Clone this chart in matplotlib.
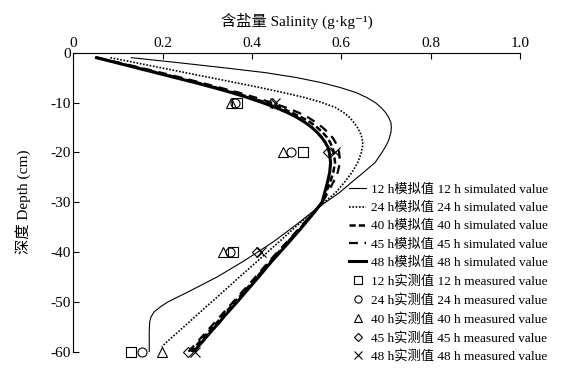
import matplotlib
matplotlib.use("Agg")
import matplotlib.pyplot as plt
import numpy as np

plt.rcParams['font.family'] = ['Liberation Serif', 'Noto Sans CJK SC', 'DejaVu Sans']

# ---- data ----
depth = [-1, -2, -3, -4, -5, -6, -7, -8, -9, -10, -11, -12, -13, -14, -15, -16, -17, -18, -19, -20,
         -22, -24, -26, -28, -30, -32, -35, -38, -40, -42, -45, -48, -50, -51, -52, -53, -54, -56, -58, -59, -60]

sim_12h = [0.130, 0.235, 0.335, 0.430, 0.500, 0.555, 0.598, 0.633, 0.657, 0.676, 0.689, 0.699, 0.706, 0.711, 0.712,
           0.711, 0.708, 0.704, 0.698, 0.691, 0.676, 0.650, 0.623, 0.597, 0.565, 0.535, 0.492, 0.447, 0.413, 0.378,
           0.322, 0.257, 0.212, 0.195, 0.181, 0.174, 0.171, 0.170, 0.170, 0.170, 0.170]
sim_24h = [0.083, 0.139, 0.195, 0.251, 0.307, 0.363, 0.418, 0.470, 0.518, 0.557, 0.587, 0.605, 0.619, 0.628, 0.636,
           0.642, 0.646, 0.648, 0.647, 0.645, 0.637, 0.624, 0.607, 0.588, 0.562, 0.535, 0.497, 0.460, 0.435, 0.410,
           0.372, 0.335, 0.310, 0.297, 0.285, 0.272, 0.260, 0.235, 0.210, 0.198, np.nan]
sim_40h = [0.052, 0.098, 0.144, 0.189, 0.234, 0.278, 0.320, 0.360, 0.397, 0.431, 0.462, 0.489, 0.512, 0.531, 0.546,
           0.558, 0.568, 0.575, 0.580, 0.583, 0.586, 0.582, 0.575, 0.566, 0.557, 0.539, 0.510, 0.480, 0.460, 0.440,
           0.411, 0.382, 0.362, 0.352, 0.342, 0.332, 0.323, 0.303, 0.283, 0.273, 0.263]
sim_45h = [0.055, 0.103, 0.150, 0.196, 0.242, 0.285, 0.328, 0.370, 0.408, 0.443, 0.476, 0.504, 0.526, 0.543, 0.558,
           0.570, 0.580, 0.587, 0.592, 0.595, 0.597, 0.592, 0.582, 0.570, 0.558, 0.538, 0.508, 0.478, 0.457, 0.437,
           0.408, 0.378, 0.358, 0.348, 0.338, 0.328, 0.318, 0.298, 0.278, 0.268, 0.258]
sim_48h = [0.052, 0.096, 0.140, 0.184, 0.228, 0.272, 0.314, 0.354, 0.390, 0.423, 0.453, 0.479, 0.501, 0.519, 0.534,
           0.546, 0.556, 0.564, 0.570, 0.573, 0.576, 0.574, 0.569, 0.563, 0.557, 0.540, 0.512, 0.483, 0.463, 0.443,
           0.415, 0.386, 0.367, 0.357, 0.347, 0.337, 0.328, 0.308, 0.289, 0.279, 0.270]

meas_depth = [-10, -20, -40, -60]
meas_12h = [0.367, 0.514, 0.357, 0.129]
meas_24h = [0.362, 0.487, 0.351, 0.153]
meas_40h = [0.352, 0.469, 0.336, 0.199]
meas_45h = [0.444, 0.571, 0.411, 0.256]
meas_48h = [0.452, 0.586, 0.420, 0.272]

sim_labels = ['12 h模拟值 12 h simulated value', '24 h模拟值 24 h simulated value',
              '40 h模拟值 40 h simulated value', '45 h模拟值 45 h simulated value',
              '48 h模拟值 48 h simulated value']
meas_labels = ['12 h实测值 12 h measured value', '24 h实测值 24 h measured value',
               '40 h实测值 40 h measured value', '45 h实测值 45 h measured value',
               '48 h实测值 48 h measured value']
x_ticks = [0, 0.2, 0.4, 0.6, 0.8, 1.0]
x_ticklabels = ['0', '0.2', '0.4', '0.6', '0.8', '1.0']
y_ticks = [0, -10, -20, -30, -40, -50, -60]
y_ticklabels = ['0', '-10', '-20', '-30', '-40', '-50', '-60']

# ---- figure ----
fig = plt.figure(figsize=(5.72, 3.70), dpi=100)
ax = fig.add_axes([73.3 / 572, 1 - 351.7 / 370, (520 - 73.3) / 572, (351.7 - 52.7) / 370])

ax.plot(sim_12h, depth, color='black', lw=0.8, ls='-', label=sim_labels[0])
ax.plot(sim_24h, depth, color='black', lw=1.2, ls=(0, (1, 1)), label=sim_labels[1])
ax.plot(sim_40h, depth, color='black', lw=1.8, ls=(0, (2.5, 1.2)), label=sim_labels[2])
ax.plot(sim_45h, depth, color='black', lw=1.6, ls=(0, (4, 3)), label=sim_labels[3])
ax.plot(sim_48h, depth, color='black', lw=2.2, ls='-', label=sim_labels[4])

ms = 6.5
mk = dict(ls='none', color='black', mfc='none', mew=0.8, ms=ms, clip_on=False)
ax.plot(meas_12h, meas_depth, marker='s', label=meas_labels[0], **mk)
ax.plot(meas_24h, meas_depth, marker='o', label=meas_labels[1], **mk)
ax.plot(meas_40h, meas_depth, marker='^', label=meas_labels[2], **mk)
ax.plot(meas_45h, meas_depth, marker='D', label=meas_labels[3], **dict(mk, ms=5.5))
ax.plot(meas_48h, meas_depth, marker='x', label=meas_labels[4], **mk)

ax.set_xlim(0, 1.0)
ax.set_ylim(-60, 0)
ax.xaxis.tick_top()
ax.xaxis.set_label_position('top')
ax.set_xticks(x_ticks)
ax.set_xticklabels(x_ticklabels)
ax.set_yticks(y_ticks)
ax.set_yticklabels(y_ticklabels)
ax.tick_params(axis='both', direction='in', length=4, width=0.8, labelsize=11, pad=2)
for s in ['right', 'bottom']:
    ax.spines[s].set_visible(False)
for s in ['left', 'top']:
    ax.spines[s].set_linewidth(0.8)

ax.set_xlabel('含盐量 Salinity (g·kg⁻¹)', fontsize=11, labelpad=8)
ax.set_ylabel('深度 Depth (cm)', fontsize=11, labelpad=14)

leg = ax.legend(loc='lower left', bbox_to_anchor=(349 / 572, 1 - 363 / 370), bbox_transform=fig.transFigure,
                frameon=False, fontsize=9.5, handlelength=1.3, handletextpad=0.4, labelspacing=0.45,
                borderaxespad=0, borderpad=0, markerscale=0.8)

fig.savefig('out.png', dpi=100)
